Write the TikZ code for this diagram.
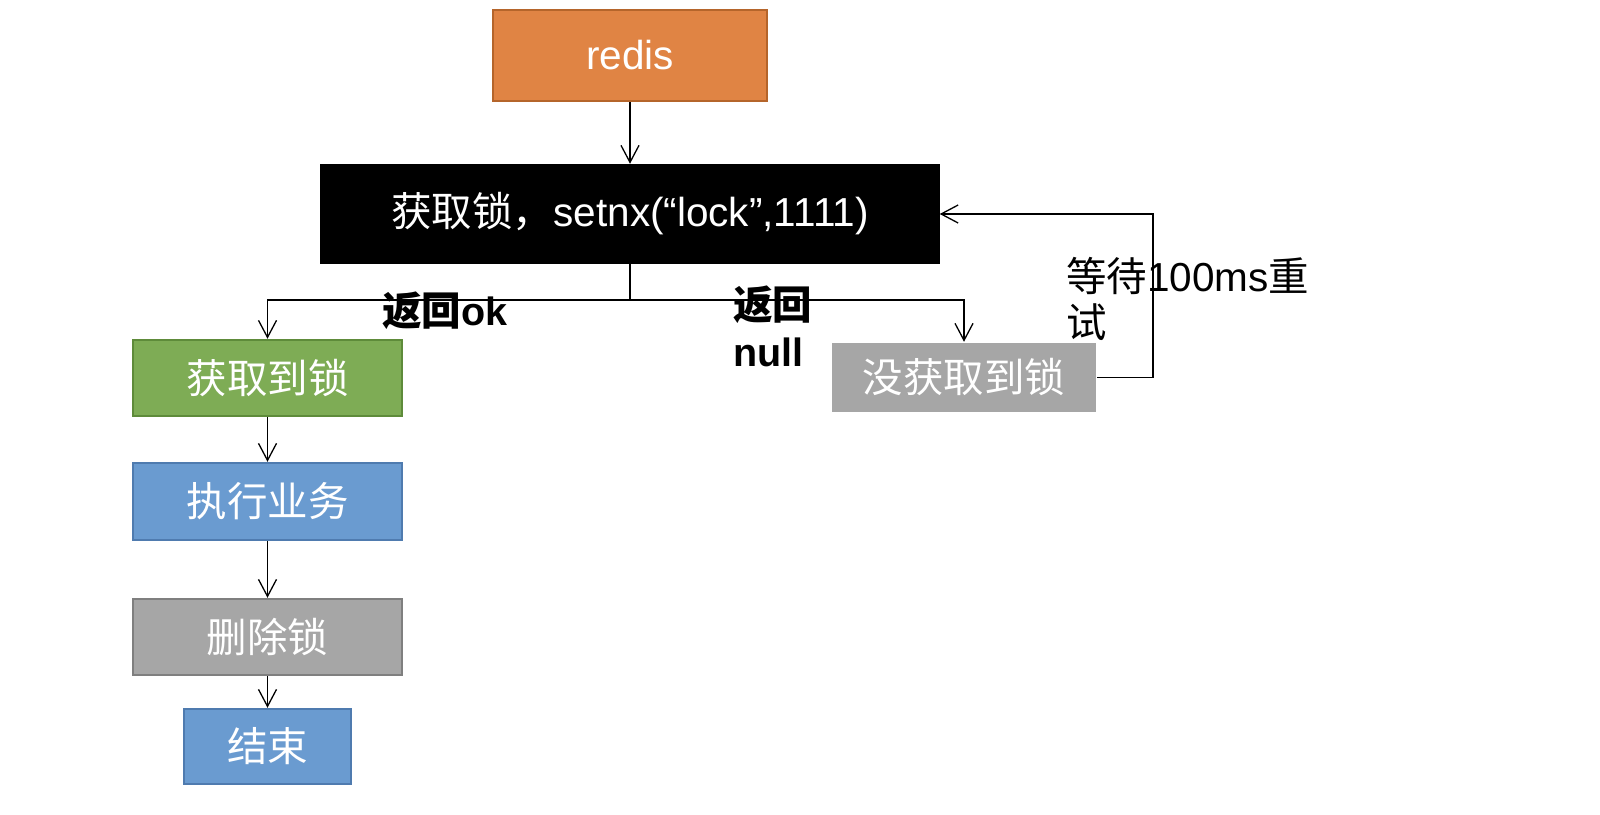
\documentclass[tikz,border=0pt]{standalone}
\usepackage{fontspec}
\setmainfont{Liberation Sans}
\newfontfamily\cjk{Noto Sans CJK SC}
\newcommand\zh[1]{{\cjk #1}}
\usetikzlibrary{arrows.meta}
\definecolor{cOrange}{RGB}{224,132,68}
\definecolor{cOrangeB}{RGB}{181,101,43}
\definecolor{cGreen}{RGB}{126,172,85}
\definecolor{cGreenB}{RGB}{94,139,58}
\definecolor{cBlue}{RGB}{106,155,208}
\definecolor{cBlueB}{RGB}{79,123,175}
\definecolor{cGray}{RGB}{166,166,166}
\definecolor{cGrayB}{RGB}{127,127,127}
\tikzset{
  box/.style={rectangle, inner sep=0pt, line width=2.5pt, text=white,
    font=\fontsize{40.5}{48}\selectfont},
  conn/.style={line width=1.3pt, -{Straight Barb[length=17pt,width=18pt,line width=1.3pt]}},
  plain/.style={line width=1.3pt},
  lbl/.style={inner sep=0pt, font=\fontsize{40.5}{46}\selectfont, align=left},
  blbl/.style={inner sep=0pt, font=\fontsize{39.5}{47}\selectfont\bfseries, align=left}
}
\begin{document}
\begin{tikzpicture}[x=1pt,y=-1pt]
\useasboundingbox (0,0) rectangle (1600,814);
\node[box, fill=cOrange, draw=cOrangeB, minimum width=274pt, minimum height=91pt] (redis) at (630,55.5) {redis};
\node[box, fill=black, draw=black, minimum width=617pt, minimum height=98pt] (lock) at (630,214) {\zh{获取锁，}setnx(“lock”,1111)};
\node[box, fill=cGreen, draw=cGreenB, minimum width=269pt, minimum height=76pt] (got) at (267.5,378) {\zh{获取到锁}};
\node[box, fill=cBlue, draw=cBlueB, minimum width=269pt, minimum height=77pt] (exec) at (267.5,501.5) {\zh{执行业务}};
\node[box, fill=cGray, draw=cGrayB, minimum width=269pt, minimum height=76pt] (del) at (267.5,637) {\zh{删除锁}};
\node[box, fill=cBlue, draw=cBlueB, minimum width=167pt, minimum height=75pt] (fin) at (267.5,746.5) {\zh{结束}};
\node[box, fill=cGray, minimum width=264pt, minimum height=69pt] (nogot) at (964,377.5) {\zh{没获取到锁}};

\coordinate (split) at (630,300);
\coordinate (loopx) at (1153,0);

\draw[conn] (redis) -- (lock);
\draw[plain] (lock.south) -- (split);
\draw[conn] (split) -| (got.north);
\draw[conn] (split) -| (nogot.north);
\draw[conn] (got) -- (exec);
\draw[conn] (exec) -- (del);
\draw[conn] (del) -- (fin);
\draw[conn] (nogot.east) -- (nogot.east -| loopx) |- (lock.east);

\node[blbl] (lok) at (445,311) {\zh{返回}ok};
\node[blbl, anchor=north west] (lnull) at (733,286) {\zh{返回}\\null};
\node[lbl, anchor=north west] (lwait) at (1066,257) {\zh{等待}100ms\zh{重}\\\zh{试}};
\end{tikzpicture}
\end{document}
